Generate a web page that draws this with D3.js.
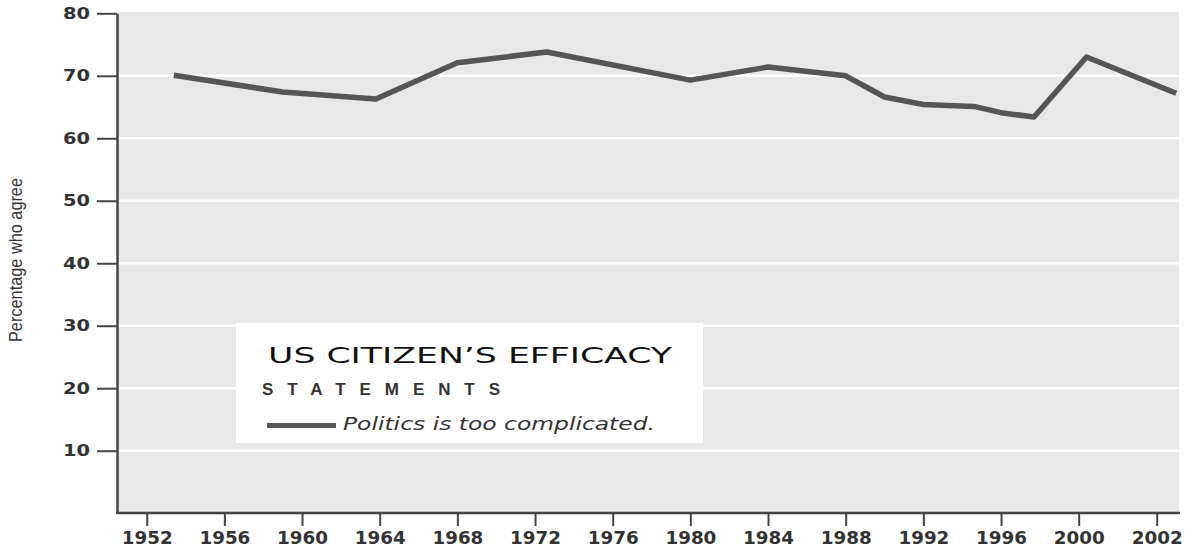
<!DOCTYPE html>
<html>
<head>
<meta charset="utf-8">
<script src="https://cdn.jsdelivr.net/npm/d3@7"></script>
<style>
  html, body { margin: 0; padding: 0; background: #fff; }
  svg { display: block; }
</style>
</head>
<body>
<svg id="chart" width="1194" height="552"></svg>
<script>
// Survey years and share agreeing that "Politics is too complicated"
const years  = [1953.4, 1959, 1963.8, 1968, 1972.6, 1980, 1984, 1988, 1990, 1992, 1994.6, 1996, 1997.7, 2000.2, 2002.5];
const values = [70.1, 67.4, 66.3, 72.1, 73.8, 69.3, 71.4, 70.0, 66.6, 65.4, 65.1, 64.1, 63.4, 73.0, 67.2];

const yearTicks  = [1952, 1956, 1960, 1964, 1968, 1972, 1976, 1980, 1984, 1988, 1992, 1996, 2000, 2002];
const valueTicks = [10, 20, 30, 40, 50, 60, 70, 80];

const titleText    = "US CITIZEN\u2019S EFFICACY";
const subtitleText = "STATEMENTS";
const seriesLabel  = "Politics is too complicated.";
const yAxisTitle   = "Percentage who agree";

const svg = d3.select("#chart");
const ink = "#333";
const lineColor = "#555";

const plot = { left: 118, right: 1179, top: 12, bottom: 513 };

// The year axis is stretched after 2000 so 2002 gets a full tick slot
const x = d3.scaleLinear()
  .domain([1952, 2000, 2002])
  .range([146.7, 1078.7, 1156.7]);

const y = d3.scaleLinear()
  .domain([0, 80])
  .range([513.2, 13.3]);

// Plot background
svg.append("rect")
  .attr("x", plot.left).attr("y", plot.top)
  .attr("width", plot.right - plot.left).attr("height", plot.bottom - plot.top)
  .attr("fill", "#e8e8e8");

// White horizontal gridlines
svg.append("g")
  .selectAll("line")
  .data(valueTicks.filter(v => v < 80))
  .join("line")
  .attr("x1", plot.left).attr("x2", plot.right)
  .attr("y1", d => y(d)).attr("y2", d => y(d))
  .attr("stroke", "#fff").attr("stroke-width", 2.5);

// Series line
const line = d3.line()
  .x((d, i) => x(years[i]))
  .y(d => y(d))
  .curve(d3.curveLinear);

svg.append("path")
  .attr("d", line(values))
  .attr("fill", "none")
  .attr("stroke", lineColor)
  .attr("stroke-width", 5.5)
  .attr("stroke-linejoin", "round");

// Y axis
const yAxis = svg.append("g")
  .attr("transform", "translate(117,0)")
  .call(d3.axisLeft(y).tickValues(valueTicks).tickSize(20).tickPadding(7).tickSizeOuter(0));
yAxis.select(".domain").attr("stroke", "#444").attr("stroke-width", 2.5);
yAxis.selectAll(".tick line").attr("stroke", "#444").attr("stroke-width", 2);
yAxis.selectAll(".tick text")
  .attr("fill", ink)
  .attr("textLength", 27)
  .attr("lengthAdjust", "spacingAndGlyphs")
  .style("font-family", "'DejaVu Sans', sans-serif")
  .style("font-size", "16px")
  .style("font-weight", "bold");

// X axis
const xAxis = svg.append("g")
  .attr("transform", "translate(0,513)")
  .call(d3.axisBottom(x).tickValues(yearTicks).tickFormat(d3.format("d")).tickSize(13).tickPadding(6).tickSizeOuter(0));
xAxis.select(".domain").attr("d", `M116,0H1180`).attr("stroke", "#444").attr("stroke-width", 2.5);
xAxis.selectAll(".tick line").attr("stroke", "#444").attr("stroke-width", 2);
xAxis.selectAll(".tick text")
  .attr("fill", ink)
  .attr("textLength", 51)
  .attr("lengthAdjust", "spacingAndGlyphs")
  .style("font-family", "'DejaVu Sans', sans-serif")
  .style("font-size", "17px")
  .style("font-weight", "bold");

// Y axis title
svg.append("text")
  .attr("transform", "translate(22,260) rotate(-90)")
  .attr("text-anchor", "middle")
  .attr("fill", ink)
  .attr("textLength", 164)
  .attr("lengthAdjust", "spacingAndGlyphs")
  .style("font-family", "'Liberation Sans Narrow', 'Liberation Sans', sans-serif")
  .style("font-size", "18px")
  .text(yAxisTitle);

// Legend box
const legend = svg.append("g");
legend.append("rect")
  .attr("x", 236).attr("y", 323).attr("width", 467).attr("height", 120)
  .attr("fill", "#fff");

legend.append("text")
  .attr("x", 268).attr("y", 363)
  .attr("fill", "#111")
  .attr("textLength", 404)
  .attr("lengthAdjust", "spacingAndGlyphs")
  .style("font-family", "'DejaVu Sans', sans-serif")
  .style("font-size", "21px")
  .text(titleText);

legend.append("text")
  .attr("x", 262).attr("y", 395)
  .attr("fill", ink)
  .attr("textLength", 238)
  .attr("lengthAdjust", "spacing")
  .style("font-family", "'Liberation Sans', Arial, sans-serif")
  .style("font-size", "17px")
  .style("font-weight", "bold")
  .text(subtitleText);

legend.append("line")
  .attr("x1", 267).attr("x2", 336)
  .attr("y1", 425.5).attr("y2", 425.5)
  .attr("stroke", lineColor).attr("stroke-width", 5);

legend.append("text")
  .attr("x", 343).attr("y", 430)
  .attr("fill", ink)
  .attr("textLength", 312)
  .attr("lengthAdjust", "spacingAndGlyphs")
  .style("font-family", "'DejaVu Sans', sans-serif")
  .style("font-size", "17px")
  .style("font-style", "italic")
  .text(seriesLabel);
</script>
</body>
</html>
